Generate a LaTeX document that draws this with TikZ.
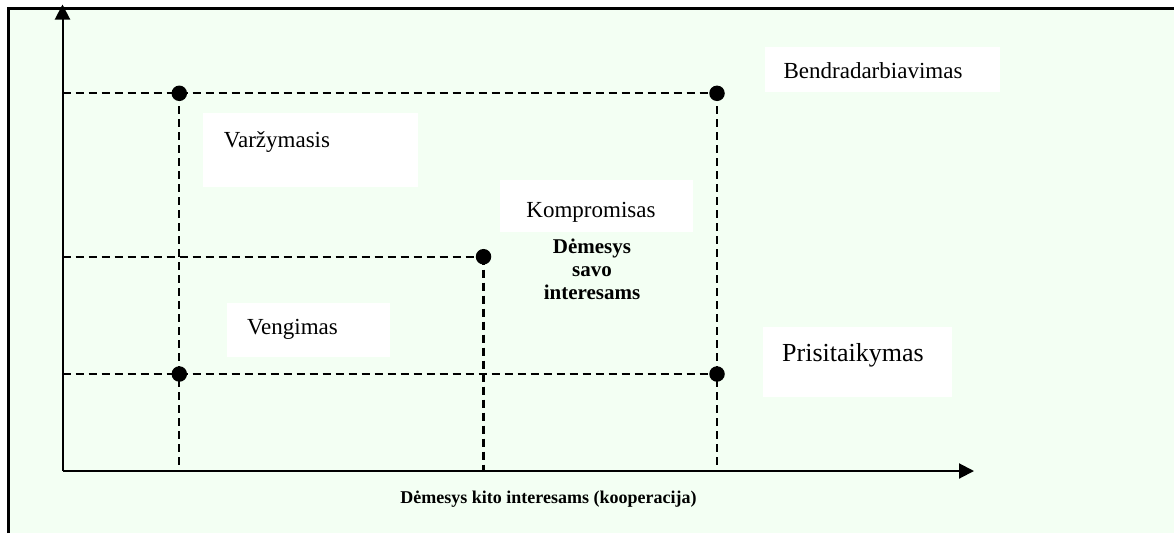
\documentclass[tikz,border=0pt]{standalone}
\usepackage{fontspec}
\setmainfont{Liberation Serif}
\usetikzlibrary{arrows.meta}
\definecolor{bgtint}{RGB}{243,255,243}
\begin{document}
\begin{tikzpicture}[x=1pt,y=-1pt,
  axis/.style={line width=2pt,-{Triangle[length=15pt,width=15pt]}},
  guide/.style={line width=2.2pt,dash pattern=on 8pt off 5pt},
  dotmark/.style={circle,fill=black,inner sep=0pt,minimum size=15.5pt},
  lbl/.style={font=\fontsize{23}{27}\selectfont,anchor=base,inner sep=0pt},
  blbl/.style={font=\fontsize{21}{23}\selectfont\bfseries,inner sep=0pt}]
\useasboundingbox (0,0) rectangle (1174,533);
% background and frame
\fill[bgtint] (8.7,8.7) rectangle (1174,533);
\draw[line width=2.5pt] (8.7,533) -- (8.7,8.7) -- (1174,8.7);
% white label boxes
\fill[white] (765,47) rectangle (1000,92);
\fill[white] (203,113) rectangle (418,187);
\fill[white] (500,180) rectangle (693,232);
\fill[white] (227,303) rectangle (390,357);
\fill[white] (763,327) rectangle (952,397);
% coordinates
\coordinate (O) at (62.5,471);
\coordinate (Ytip) at (62.5,4.5);
\coordinate (Xtip) at (974,471);
\coordinate (p1) at (179.3,93.3);
\coordinate (p2) at (717,93.3);
\coordinate (p3) at (483.5,256.7);
\coordinate (p4) at (179.3,374);
\coordinate (p5) at (717,374);
\coordinate (yA) at (O |- p1);
\coordinate (yB) at (O |- p3);
\coordinate (yC) at (O |- p4);
% guides
\draw[guide] (yA) -- (p1) -- (p2);
\draw[guide] (yB) -- (p3);
\draw[guide] (yC) -- (p4) -- (p5);
\draw[guide] (p1) -- (p1 |- O);
\draw[guide] (p3) -- (p3 |- O);
\draw[guide] (p2) -- (p2 |- O);
% axes
\draw[axis] (O) -- (Ytip);
\draw[axis] (O) -- (Xtip);
% dots
\node[dotmark] (d1) at (p1) {};
\node[dotmark] (d2) at (p2) {};
\node[dotmark] (d3) at (p3) {};
\node[dotmark] (d4) at (p4) {};
\node[dotmark] (d5) at (p5) {};
% labels
\node[lbl] (bend) at (873,78) {Bendradarbiavimas};
\node[lbl] (varz) at (277,147) {Varžymasis};
\node[lbl] (komp) at (591,217) {Kompromisas};
\node[blbl,align=center,anchor=base] (savo) at (592,299) {Dėmesys\\savo\\interesams};
\node[lbl] (veng) at (292.5,334) {Vengimas};
\node[lbl,font=\fontsize{26}{30}\selectfont] (pris) at (853,361) {Prisitaikymas};
\node[font=\fontsize{18}{20}\selectfont\bfseries,anchor=base,inner sep=0pt] (xlab) at (548.5,503) {Dėmesys kito interesams (kooperacija)};
\end{tikzpicture}
\end{document}
